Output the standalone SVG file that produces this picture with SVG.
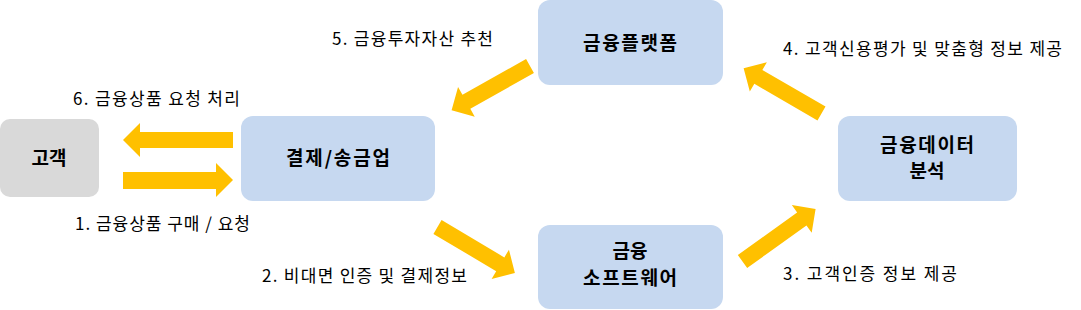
<svg xmlns="http://www.w3.org/2000/svg" width="1081" height="310" viewBox="0 0 1081 310">
<style>
.node{fill:#C6D8F0;}
.gray{fill:#D9D9D9;}
.nl{font-family:"Noto Sans CJK KR","Noto Sans",sans-serif;font-size:19px;font-weight:bold;fill:#000;text-anchor:middle;}
.el{font-family:"Noto Sans CJK KR","Noto Sans",sans-serif;font-size:17px;fill:#000;}
.arr{fill:#FFC000;}
</style>
<defs>
<polygon id="da" points="0,-8 73,-8 73,-17 90,0 73,17 73,8 0,8"/>
</defs>
<rect width="1081" height="310" fill="#fff"/>
<g id="n-customer"><rect class="gray" x="0" y="119" width="99" height="78" rx="10"/><text class="nl" x="49" y="165">고객</text></g>
<g id="n-payment"><rect class="node" x="241" y="116" width="194" height="85" rx="12"/><text class="nl" x="338" y="165" textLength="104">결제/송금업</text></g>
<g id="n-platform"><rect class="node" x="538" y="0" width="185" height="85" rx="12"/><text class="nl" x="630" y="50" textLength="94">금융플랫폼</text></g>
<g id="n-software"><rect class="node" x="538" y="225" width="185" height="84" rx="12"/><text class="nl" x="630" y="258">금융</text><text class="nl" x="630" y="285" textLength="94">소프트웨어</text></g>
<g id="n-data"><rect class="node" x="838" y="116" width="179" height="85" rx="12"/><text class="nl" x="927" y="152" textLength="94">금융데이터</text><text class="nl" x="927" y="178">분석</text></g>
<g id="connectors">
<polygon class="arr" points="233,132 140,132 140,123 123,140 140,157 140,148 233,148"/>
<polygon class="arr" points="123,172 216,172 216,163 233,180 216,197 216,189 123,189"/>
<use href="#da" class="arr" transform="translate(530,66) rotate(150.6)"/>
<use href="#da" class="arr" transform="translate(437.5,227) rotate(30.7)"/>
<use href="#da" class="arr" transform="translate(742.5,261.5) rotate(-35.7)"/>
<use href="#da" class="arr" transform="translate(821.5,113.5) rotate(210.1)"/>
<text class="el" x="332" y="45" textLength="161">5. 금융투자자산 추천</text>
<text class="el" x="73" y="105" textLength="167">6. 금융상품 요청 처리</text>
<text class="el" x="75" y="230" textLength="175">1. 금융상품 구매 / 요청</text>
<text class="el" x="262" y="282" textLength="205">2. 비대면 인증 및 결제정보</text>
<text class="el" x="783" y="280" textLength="174">3. 고객인증 정보 제공</text>
<text class="el" x="783" y="55" textLength="279">4. 고객신용평가 및 맞춤형 정보 제공</text>
</g>
</svg>
